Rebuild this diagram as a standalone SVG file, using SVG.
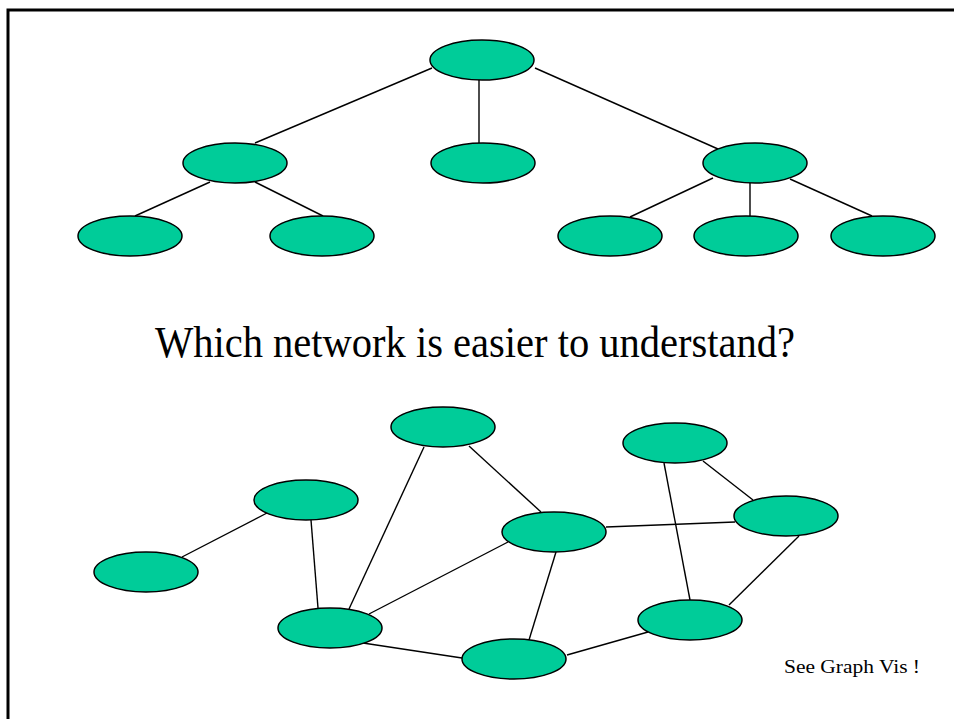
<svg xmlns="http://www.w3.org/2000/svg" width="954" height="719" viewBox="0 0 954 719">
<style>
.n{fill:#00CC99;stroke:#000;stroke-width:1.5}
.e line{stroke:#000;stroke-width:1.4}
.t{font-family:"Liberation Serif","Times New Roman",serif;fill:#000}
</style>
<rect width="954" height="719" fill="#fff"/>
<rect x="8" y="10" width="970" height="730" fill="none" stroke="#000" stroke-width="3"/>
<g id="connectors" class="e">
<line x1="432" y1="68" x2="255" y2="143"/>
<line x1="479" y1="80" x2="479" y2="143"/>
<line x1="535" y1="68" x2="718" y2="149"/>
<line x1="210" y1="182" x2="135" y2="216"/>
<line x1="255" y1="182" x2="323" y2="216"/>
<line x1="713" y1="178" x2="630" y2="217"/>
<line x1="750" y1="183" x2="750" y2="216"/>
<line x1="790" y1="179" x2="872" y2="216"/>
<line x1="182" y1="557" x2="267" y2="513"/>
<line x1="311" y1="520" x2="318" y2="608"/>
<line x1="349" y1="609" x2="424" y2="447"/>
<line x1="369" y1="614" x2="508" y2="542"/>
<line x1="363" y1="643" x2="462" y2="658"/>
<line x1="469" y1="446" x2="541" y2="512"/>
<line x1="556" y1="552" x2="529" y2="640"/>
<line x1="606" y1="527" x2="735" y2="522"/>
<line x1="567" y1="655" x2="648" y2="632"/>
<line x1="664" y1="463" x2="690" y2="600"/>
<line x1="703" y1="461" x2="753" y2="500"/>
<line x1="799" y1="536" x2="729" y2="605"/>
</g>
<g id="t-root"><ellipse class="n" cx="482" cy="60" rx="52" ry="20"/></g>
<g id="t-l"><ellipse class="n" cx="235" cy="163" rx="52" ry="20"/></g>
<g id="t-m"><ellipse class="n" cx="483" cy="163" rx="52" ry="20"/></g>
<g id="t-r"><ellipse class="n" cx="755" cy="163" rx="52" ry="20"/></g>
<g id="t-ll"><ellipse class="n" cx="130" cy="236" rx="52" ry="20"/></g>
<g id="t-lr"><ellipse class="n" cx="322" cy="236" rx="52" ry="20"/></g>
<g id="t-rl"><ellipse class="n" cx="610" cy="236" rx="52" ry="20"/></g>
<g id="t-rm"><ellipse class="n" cx="746" cy="236" rx="52" ry="20"/></g>
<g id="t-rr"><ellipse class="n" cx="883" cy="236" rx="52" ry="20"/></g>
<g id="g-a"><ellipse class="n" cx="146" cy="572" rx="52" ry="20"/></g>
<g id="g-b"><ellipse class="n" cx="306" cy="500" rx="52" ry="20"/></g>
<g id="g-c"><ellipse class="n" cx="330" cy="628" rx="52" ry="20"/></g>
<g id="g-d"><ellipse class="n" cx="443" cy="427" rx="52" ry="20"/></g>
<g id="g-e"><ellipse class="n" cx="554" cy="532" rx="52" ry="20"/></g>
<g id="g-f"><ellipse class="n" cx="514" cy="659" rx="52" ry="20"/></g>
<g id="g-g"><ellipse class="n" cx="786" cy="516" rx="52" ry="20"/></g>
<g id="g-h"><ellipse class="n" cx="690" cy="620" rx="52" ry="20"/></g>
<g id="g-i"><ellipse class="n" cx="675" cy="443" rx="52" ry="20"/></g>
<text class="t" x="155" y="357" font-size="44" textLength="640" lengthAdjust="spacingAndGlyphs">Which network is easier to understand?</text>
<text class="t" x="784" y="673" font-size="19" textLength="136" lengthAdjust="spacingAndGlyphs">See Graph Vis !</text>
</svg>
